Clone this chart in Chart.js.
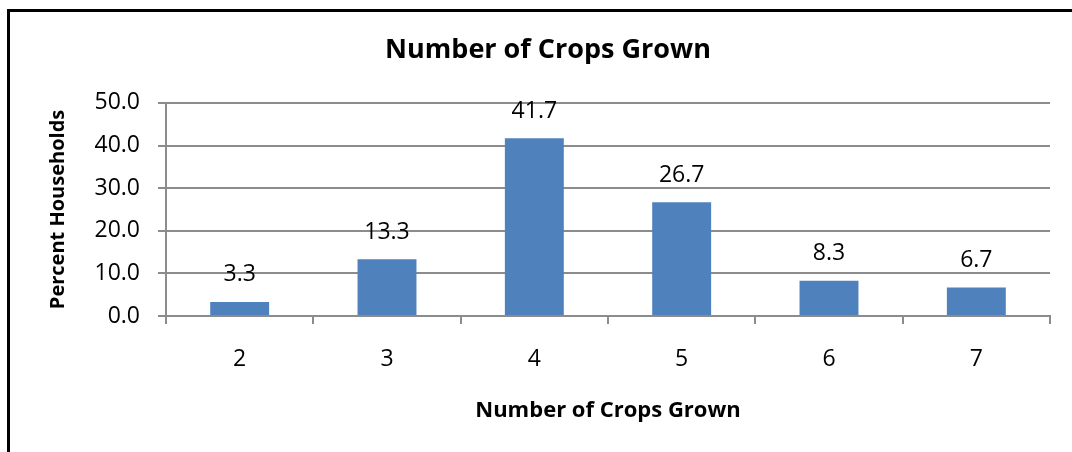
<!DOCTYPE html>
<html>
<head>
<meta charset="utf-8">
<script src="https://cdn.jsdelivr.net/npm/chart.js@4.4.0/dist/chart.umd.min.js"></script>
<style>
  html, body { margin: 0; padding: 0; background: #fff; overflow: hidden; }
  #frame { position: absolute; left: 7px; top: 9px; width: 1200px; height: 600px; border: 3px solid #000; }
  #wrap { position: absolute; left: 0; top: 0; width: 1072px; height: 452px; }
</style>
</head>
<body>
<div id="frame"></div>
<div id="wrap"><canvas id="cropsChart"></canvas></div>
<script>
// Number of crops grown per household (percent)
var cropCounts = ['2', '3', '4', '5', '6', '7'];
var percentHouseholds = [3.3, 13.3, 41.7, 26.7, 8.3, 6.7];
var yTicks = [0, 10, 20, 30, 40, 50];

var gridGrey = '#8c8c8c';
Chart.defaults.font.family = '"Open Sans", sans-serif';
Chart.defaults.color = '#000';

// values written above each bar, like Excel's "outside end" labels
var barLabels = {
    id: 'barLabels',
    afterDatasetsDraw: function (chart) {
        var ctx = chart.ctx;
        var meta = chart.getDatasetMeta(0);
        ctx.save();
        ctx.font = '23px "Open Sans", sans-serif';
        ctx.fillStyle = '#000';
        ctx.textAlign = 'center';
        ctx.textBaseline = 'middle';
        meta.data.forEach(function (bar, i) {
            ctx.fillText(percentHouseholds[i].toFixed(1), bar.x, bar.y - 27);
        });
        ctx.restore();
    }
};

var ctx = document.getElementById('cropsChart').getContext('2d');
var cropsChart = new Chart(ctx, {
    type: 'bar',
    data: {
        labels: cropCounts,
        datasets: [{
            label: 'Percent Households',
            data: percentHouseholds,
            backgroundColor: '#4f81bd',
            borderWidth: 0,
            categoryPercentage: 1.0,
            barPercentage: 0.4
        }]
    },
    options: {
        responsive: true,
        maintainAspectRatio: false,
        animation: false,
        layout: {
            padding: { left: 46, right: 22, top: 0, bottom: 0 }
        },
        plugins: {
            legend: { display: false },
            tooltip: { enabled: false },
            title: {
                display: true,
                text: 'Number of Crops Grown',
                font: { size: 27, weight: 'bold' },
                padding: { top: 34, bottom: 36.5 }
            }
        },
        scales: {
            x: {
                grid: {
                    drawOnChartArea: false,
                    drawTicks: true,
                    tickLength: 8,
                    color: gridGrey,
                    lineWidth: 2
                },
                border: { color: gridGrey, width: 2 },
                ticks: {
                    font: { size: 23 },
                    padding: 22
                },
                title: {
                    display: true,
                    text: 'Number of Crops Grown',
                    font: { size: 22, weight: 'bold' },
                    padding: { top: 0, bottom: 28 }
                },
                afterFit: function (scale) { scale.height = 136; }
            },
            y: {
                min: 0,
                max: 50,
                afterBuildTicks: function (scale) {
                    scale.ticks = yTicks.map(function (v) { return { value: v }; });
                },
                grid: {
                    color: gridGrey,
                    lineWidth: 2,
                    tickLength: 8
                },
                border: { color: gridGrey, width: 2 },
                ticks: {
                    font: { size: 23 },
                    padding: 18,
                    callback: function (value) { return value.toFixed(1); }
                },
                title: {
                    display: true,
                    text: 'Percent Households',
                    font: { size: 20, weight: 'bold' },
                    padding: { top: 0, bottom: 0 }
                },
                afterFit: function (scale) { scale.width = 120; }
            }
        }
    },
    plugins: [barLabels]
});
</script>
</body>
</html>
